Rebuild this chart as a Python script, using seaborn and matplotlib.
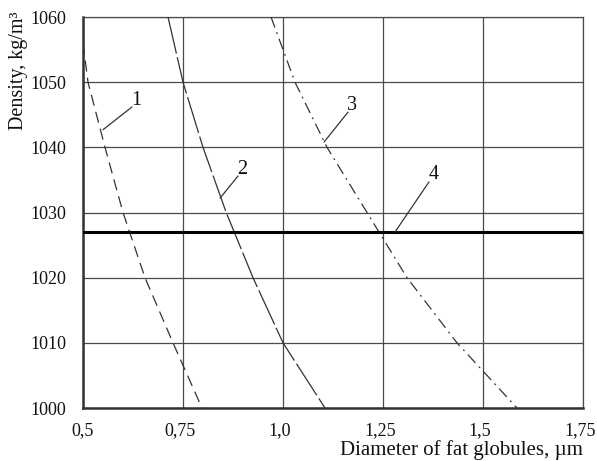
import matplotlib
matplotlib.use("Agg")
import matplotlib.pyplot as plt
import matplotlib.transforms as mtransforms
import seaborn as sns
import pandas as pd

# Data
y_levels = [1060, 1050, 1040, 1030, 1020, 1010, 1000]
curve1_x = [0.5, 0.5125, 0.555, 0.60, 0.655, 0.725, 0.7975]
curve1_y = [1056, 1050, 1040, 1030, 1020, 1010, 1000]
curve2_x = [0.7125, 0.75, 0.80, 0.858, 0.925, 1.0, 1.105]
curve3_x = [0.97, 1.03, 1.11, 1.21, 1.31, 1.435, 1.585]
line4_y = 1027

x_ticks = [0.5, 0.75, 1.0, 1.25, 1.5, 1.75]
x_ticklabels = ["0,5", "0,75", "1,0", "1,25", "1,5", "1,75"]
y_ticks = [1000, 1010, 1020, 1030, 1040, 1050, 1060]

labels = ["1", "2", "3", "4"]
label_anchor = [(0.55, 1042.7), (0.8425, 1032.2), (1.1025, 1040.8), (1.28, 1027.0)]
label_text = [(0.6225, 1046.2), (0.8875, 1035.6), (1.1625, 1045.4), (1.365, 1034.7)]

sns.set_style("white")
plt.rcParams['font.family'] = ['Liberation Serif', 'DejaVu Serif']

fig = plt.figure(figsize=(5.97, 4.61), dpi=100)
ax = fig.add_axes([83/597, 1 - 408/461, 500/597, 391/461])

grid_c = "#4a4a4a"
for xv in x_ticks:
    ax.axvline(xv, color=grid_c, lw=0.9, zorder=1)
for yv in y_ticks:
    ax.axhline(yv, color=grid_c, lw=0.9, zorder=1)

line_c = "#333333"
df1 = pd.DataFrame({"x": curve1_x, "y": curve1_y})
df2 = pd.DataFrame({"x": curve2_x, "y": y_levels})
df3 = pd.DataFrame({"x": curve3_x, "y": y_levels})
sns.lineplot(data=df1, x="x", y="y", sort=False, estimator=None, ax=ax,
             color=line_c, lw=0.9, linestyle=(0, (9, 5)), zorder=3)
sns.lineplot(data=df2, x="x", y="y", sort=False, estimator=None, ax=ax,
             color=line_c, lw=0.9, linestyle=(0, (30, 3)), zorder=3)
sns.lineplot(data=df3, x="x", y="y", sort=False, estimator=None, ax=ax,
             color=line_c, lw=0.9, linestyle=(0, (9, 4, 1.5, 4)), zorder=3)
ax.axhline(line4_y, color="black", lw=2.2, zorder=4)

for lab, (ax0, ay0), (tx, ty) in zip(labels, label_anchor, label_text):
    ax.annotate("", xy=(ax0, ay0), xytext=(tx, ty),
                arrowprops=dict(arrowstyle="-", color=line_c, lw=0.9,
                                shrinkA=0, shrinkB=0), zorder=5)
    ax.text(tx - 0.002, ty - 0.4, lab, fontsize=14.5, ha="left", va="bottom",
            color="#111111")

ax.set_xlim(0.5, 1.75)
ax.set_ylim(1000, 1060)
ax.set_xticks(x_ticks)
ax.set_xticklabels(x_ticklabels)
ax.set_yticks(y_ticks)
ax.tick_params(length=0, labelsize=13, colors="#111111")
ax.tick_params(axis="x", pad=10)
ax.tick_params(axis="y", pad=12)

shift = mtransforms.ScaledTranslation(-3 / 100, 0, fig.dpi_scale_trans)
for lbl in ax.get_xticklabels()[1:]:
    lbl.set_transform(lbl.get_transform() + shift)

for s in ["top", "right"]:
    ax.spines[s].set_color(grid_c)
    ax.spines[s].set_linewidth(0.9)
for s in ["left", "bottom"]:
    ax.spines[s].set_color("#333333")
    ax.spines[s].set_linewidth(1.8)

ax.set_xlabel("Diameter of fat globules, µm", fontsize=15, color="#111111")
ax.xaxis.set_label_coords(1.0, -(450 - 408) / 391)
ax.xaxis.label.set_ha("right")
ax.xaxis.label.set_va("center")
ax.set_ylabel("Density, kg/m³", fontsize=14.5, color="#111111")
ax.yaxis.set_label_coords((19 - 83) / 500, 1.0 + 6 / 391)
ax.yaxis.label.set_ha("right")
ax.yaxis.label.set_va("center")

fig.savefig("out.png", dpi=100)
